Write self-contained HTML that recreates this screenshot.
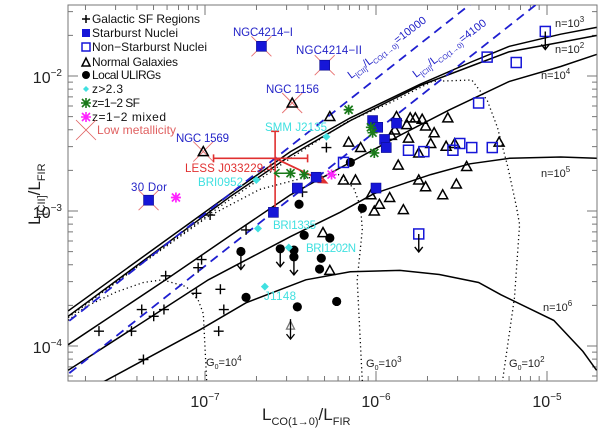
<!DOCTYPE html>
<html><head><meta charset="utf-8">
<style>
html,body{margin:0;padding:0;background:#fff;}
svg{display:block;font-family:"Liberation Sans",sans-serif;}
</style></head>
<body>
<svg id="chart" width="600" height="431" viewBox="0 0 600 431" xmlns="http://www.w3.org/2000/svg">
<defs><clipPath id="plotclip"><rect x="68" y="5" width="529" height="376"/></clipPath></defs>
<rect x="68" y="5" width="529" height="376" fill="none" stroke="#777" stroke-width="1"/>
<g id="ticks"></g>
<g id="curves" clip-path="url(#plotclip)"></g>
<g id="marks"></g>

<!-- tick labels -->
<g font-size="16" fill="#222" text-anchor="middle">
<text x="205" y="407">10<tspan dy="-7" font-size="10">−7</tspan></text>
<text x="376" y="407">10<tspan dy="-7" font-size="10">−6</tspan></text>
<text x="547" y="407">10<tspan dy="-7" font-size="10">−5</tspan></text>
</g>
<g font-size="16" fill="#222" text-anchor="end">
<text x="62" y="83">10<tspan dy="-7" font-size="10">−2</tspan></text>
<text x="62" y="218">10<tspan dy="-7" font-size="10">−3</tspan></text>
<text x="62" y="353">10<tspan dy="-7" font-size="10">−4</tspan></text>
</g>
<text x="262" y="420" font-size="17" fill="#222">L<tspan dy="5" font-size="11">CO(1→0)</tspan><tspan dy="-5">/L</tspan><tspan dy="5" font-size="11">FIR</tspan></text>
<text transform="translate(40,225) rotate(-90)" font-size="17" fill="#222">L<tspan dy="5" font-size="11">[CII]</tspan><tspan dy="-5">/L</tspan><tspan dy="5" font-size="11">FIR</tspan></text>

<!-- curve labels -->
<g font-size="11" fill="#222">
<text x="555" y="27">n=10<tspan dy="-5" font-size="8">3</tspan></text>
<text x="555" y="53">n=10<tspan dy="-5" font-size="8">2</tspan></text>
<text x="541" y="79">n=10<tspan dy="-5" font-size="8">4</tspan></text>
<text x="541" y="177">n=10<tspan dy="-5" font-size="8">5</tspan></text>
<text x="543" y="311">n=10<tspan dy="-5" font-size="8">6</tspan></text>
<text x="206" y="366">G<tspan dy="3" font-size="7">0</tspan><tspan dy="-3">=10</tspan><tspan dy="-5" font-size="8">4</tspan></text>
<text x="366" y="367">G<tspan dy="3" font-size="7">0</tspan><tspan dy="-3">=10</tspan><tspan dy="-5" font-size="8">3</tspan></text>
<text x="509" y="367">G<tspan dy="3" font-size="7">0</tspan><tspan dy="-3">=10</tspan><tspan dy="-5" font-size="8">2</tspan></text>
<text transform="translate(351,79) rotate(-37)" font-size="11" fill="#2020c8">L<tspan dy="3" font-size="7">[CII]</tspan><tspan dy="-3">/L</tspan><tspan dy="3" font-size="7">CO(1→0)</tspan><tspan dy="-3">=10000</tspan></text>
<text transform="translate(416,78) rotate(-37)" font-size="11" fill="#2020c8">L<tspan dy="3" font-size="7">[CII]</tspan><tspan dy="-3">/L</tspan><tspan dy="3" font-size="7">CO(1→0)</tspan><tspan dy="-3">=4100</tspan></text>
</g>

<!-- object labels -->
<g font-size="11.5">
<text x="233" y="36" fill="#2424c8" textLength="60">NGC4214−I</text>
<text x="296" y="54" fill="#2424c8" textLength="66">NGC4214−II</text>
<text x="266" y="93" fill="#2424c8" textLength="53">NGC 1156</text>
<text x="176" y="142" fill="#2424c8" textLength="53">NGC 1569</text>
<text x="131" y="191" fill="#2424c8" textLength="36">30 Dor</text>
<text x="265" y="131" fill="#40e0e0" textLength="62">SMM J2135</text>
<text x="198" y="186" fill="#40e0e0" textLength="45">BRI0952</text>
<text x="273" y="229" fill="#40e0e0" textLength="43">BRI1335</text>
<text x="306" y="252" fill="#40e0e0" textLength="50">BRI1202N</text>
<text x="264" y="300" fill="#40e0e0" textLength="32">J1148</text>
<text x="185" y="172" fill="#e03030" textLength="88">LESS J033229.4</text>
</g>

<!-- legend -->
<g font-size="12" fill="#111">
<g><path d="M82 19h8M86 15v8" stroke="#000" stroke-width="1.5"/><text x="92" y="23" textLength="108">Galactic SF Regions</text></g>
<g><rect x="82" y="29" width="8" height="8" fill="#1616d8"/><text x="92" y="37" textLength="86">Starburst Nuclei</text></g>
<g><rect x="82" y="43" width="8" height="8" fill="none" stroke="#1616d8" stroke-width="1.5"/><text x="92" y="51" textLength="115">Non−Starburst Nuclei</text></g>
<g><path d="M82 66L86 58L90 66Z" fill="none" stroke="#000" stroke-width="1.5"/><text x="92" y="66" textLength="86">Normal Galaxies</text></g>
<g><circle cx="86" cy="75" r="4" fill="#000"/><text x="92" y="79" textLength="69">Local ULIRGs</text></g>
<g><path d="M86 86l3 3l-3 3l-3-3z" fill="#40e0e0"/><text x="92" y="93" textLength="31">z&gt;2.3</text></g>
<g><path d="M82 99l8 8M90 99l-8 8M81 103h10M86 98v10" stroke="#1a7a1a" stroke-width="1.6"/><text x="92" y="107" textLength="48">z=1−2 SF</text></g>
<g><path d="M82 113l8 8M90 113l-8 8M81 117h10M86 112v10" stroke="#ff22ff" stroke-width="1.6"/><text x="92" y="121" textLength="74">z=1−2 mixed</text></g>
<g><path d="M76 120l20 20M96 120l-20 20" stroke="#e06060" stroke-width="0.8"/><text x="97" y="134" fill="#e06060" textLength="79">Low metallicity</text></g>
</g>

<script>
// ---- data (log10 values) ----
const galLogX = [-6.97,-6.76,-7.02,-7.04,-7.23,-6.91,-7.05,-7.37,-7.24,-7.30,-6.89,-7.62,-7.43,-6.92,-7.36,-6.43,-6.29];
const galLogY = [-3.03,-3.14,-3.36,-3.42,-3.48,-3.58,-3.61,-3.73,-3.73,-3.78,-3.73,-3.89,-3.89,-3.89,-4.10,-2.86,-2.53];
const ulLogX = [-6.45,-6.42,-6.27,-6.79,-6.56,-6.48,-6.48,-6.32,-6.33,-6.76,-6.46,-6.23,-6.15,-6.08];
const ulLogY = [-2.95,-3.18,-3.20,-3.30,-3.28,-3.29,-3.34,-3.35,-3.43,-3.64,-3.71,-3.67,-2.64,-2.98];
const ulUpper = [0,0,0,1,1,0,1,0,0,0,0,0,0,0];
const ngLogX = [-6.31,-6.27,-6.27,-6.16,-6.09,-5.88,-5.89,-5.91,-5.80,-5.77,-5.73,-5.82,-5.71,-5.66,-5.58,-5.81,-5.68,-5.75,-5.59,-5.54,-5.28,-5.87,-5.47,-5.75,-6.19,-6.12,-5.71,-5.53,-5.61,-5.92,-6.03,-5.98,-6.01,-5.84,-6.49,-7.01];
const ngLogY = [-3.16,-3.44,-2.30,-2.49,-2.53,-2.30,-2.40,-2.44,-2.31,-2.31,-2.32,-2.36,-2.37,-2.42,-2.31,-2.46,-2.50,-2.57,-2.52,-2.50,-2.49,-2.66,-2.67,-2.77,-2.77,-2.77,-2.82,-2.80,-2.88,-2.90,-2.88,-2.95,-3.00,-2.99,-2.20,-2.56];
const ngLimLogX = [-6.50];
const ngLimLogY = [-3.86];
const sbLogX = [-6.60,-6.46,-6.35,-6.02,-5.99,-5.88,-5.95,-5.94,-6.00,-6.67,-6.30,-7.33];
const sbLogY = [-3.01,-2.83,-2.75,-2.33,-2.38,-2.35,-2.47,-2.53,-2.83,-1.78,-1.92,-2.92];
const nsLogX = [-5.01,-5.35,-5.18,-5.40,-5.81,-5.72,-5.55,-5.51,-5.44,-5.32,-6.19,-5.75];
const nsLogY = [-1.67,-1.86,-1.90,-2.20,-2.55,-2.56,-2.55,-2.50,-2.53,-2.53,-2.64,-3.17];
const nsUpper = [1,0,0,0,0,0,0,0,0,0,0,1];
const hzLogX = [-6.29,-6.70,-6.69,-6.51,-6.65];
const hzLogY = [-2.45,-2.77,-3.13,-3.27,-3.56];
const sfLogX = [-6.16,-6.03,-6.02,-6.01,-6.42,-6.50];
const sfLogY = [-2.25,-2.38,-2.42,-2.57,-2.73,-2.72];
const sfLower = [0,0,0,0,0,1];
const mixLogX = [-6.26,-7.17];
const mixLogY = [-2.73,-2.90];
const lowMetLogX = [-6.67,-6.30,-7.33,-6.49,-7.01];
const lowMetLogY = [-1.78,-1.92,-2.92,-2.20,-2.56];
const lessLogX = [-6.59];
const lessLogY = [-2.61];
const lessXErr = [-6.95,-6.40];
const lessYErr = [-2.41,-3.01];
const lessArrowTo = [-6.29,-2.79];
const ratioValues = [10000,4100];
const ratioLogConv = -0.02;
// model curves
const nLabels = ['1e3','1e2','1e4','1e5','1e6'];
const n3LogX = [-7.80,-7.32,-6.85,-6.50,-6.15,-5.74,-5.45,-5.22,-4.92,-4.71];
const n3LogY = [-3.74,-3.30,-2.87,-2.56,-2.31,-2.06,-1.90,-1.78,-1.69,-1.64];
const n2LogX = [-7.80,-7.32,-6.85,-6.50,-6.15,-5.74,-5.45,-5.22,-4.92,-4.71];
const n2LogY = [-3.78,-3.33,-2.89,-2.59,-2.33,-2.07,-1.93,-1.82,-1.75,-1.70];
const n4LogX = [-7.80,-7.23,-6.85,-6.50,-6.15,-5.86,-5.57,-5.22,-4.92,-4.71];
const n4LogY = [-3.99,-3.51,-3.18,-2.88,-2.64,-2.44,-2.25,-2.04,-1.93,-1.84];
const n5LogX = [-7.80,-6.98,-6.50,-6.21,-6.01,-5.68,-5.45,-5.22,-4.92,-4.71];
const n5LogY = [-4.18,-3.51,-3.19,-3.01,-2.87,-2.73,-2.65,-2.61,-2.60,-2.61];
const n6LogX = [-7.60,-7.03,-6.76,-6.41,-6.15,-5.86,-5.63,-5.40,-5.27,-4.96,-4.79,-4.71];
const n6LogY = [-4.27,-3.88,-3.68,-3.51,-3.45,-3.44,-3.47,-3.53,-3.62,-3.81,-4.04,-4.18];
const g4LogX = [-7.80,-7.70,-7.52,-7.36,-7.25,-7.11,-7.04,-7.01,-6.99];
const g4LogY = [-3.81,-3.71,-3.60,-3.53,-3.51,-3.56,-3.66,-3.76,-4.26];
const g3LogX = [-7.80,-7.38,-6.98,-6.68,-6.44,-6.22,-6.13,-6.09,-6.08,-6.11,-6.08];
const g3LogY = [-3.79,-3.40,-3.04,-2.84,-2.76,-2.73,-2.83,-2.97,-3.14,-3.51,-4.26];
const g2LogX = [-7.80,-7.32,-6.85,-6.50,-6.17,-5.92,-5.67,-5.44,-5.35,-5.29,-5.23,-5.18,-5.16,-5.19,-5.26];
const g2LogY = [-3.78,-3.34,-2.91,-2.61,-2.34,-2.20,-2.04,-2.03,-2.18,-2.38,-2.67,-2.96,-3.10,-3.64,-4.26];
const xTickDecades = [-8,-7,-6,-5];
const yTickDecades = [-5,-4,-3,-2];

// ---- axes ----
const X = lx => 205 + (lx + 7) * 171;
const Y = ly => 211 - (ly + 3) * 135;
const NS = 'http://www.w3.org/2000/svg';
function mk(tag, parent) { const e = document.createElementNS(NS, tag); parent.appendChild(e); return e; }
const tickG = document.getElementById('ticks');
const curveG = document.getElementById('curves');
const markG = document.getElementById('marks');

// ticks
let td = '';
xTickDecades.forEach(d => {
  for (let k = 1; k <= 9; k++) {
    const px = X(d + Math.log10(k));
    if (px < 68.5 || px > 596.5) continue;
    const len = k === 1 ? 10 : 5;
    td += `M${px} 381v${-len}M${px} 5v${len}`;
  }
});
yTickDecades.forEach(d => {
  for (let k = 1; k <= 9; k++) {
    const py = Y(d + Math.log10(k));
    if (py < 5.5 || py > 380.5) continue;
    const len = k === 1 ? 10 : 5;
    td += `M68 ${py}h${len}M597 ${py}h${-len}`;
  }
});
const tp = mk('path', tickG);


tp.setAttribute('d', td);
tp.setAttribute('stroke', '#777');
tp.setAttribute('fill', 'none');

function poly(xs, ys, name, stroke, dash, w) {
  const p = mk('path', curveG);
  
  
  p.setAttribute('d', xs.map((v, i) => (i ? 'L' : 'M') + X(v).toFixed(1) + ' ' + Y(ys[i]).toFixed(1)).join(''));
  p.setAttribute('fill', 'none');
  p.setAttribute('stroke', stroke);
  p.setAttribute('stroke-width', w);
  if (dash) p.setAttribute('stroke-dasharray', dash);
  return p;
}
poly(g4LogX, g4LogY, 'g0-1e4-curve', '#000', '1.2 3', 1.3);
poly(g3LogX, g3LogY, 'g0-1e3-curve', '#000', '1.2 3', 1.3);
poly(g2LogX, g2LogY, 'g0-1e2-curve', '#000', '1.2 3', 1.3);
poly(n3LogX, n3LogY, 'n-' + nLabels[0] + '-curve', '#000', null, 1.5);
poly(n2LogX, n2LogY, 'n-' + nLabels[1] + '-curve', '#000', null, 1.5);
poly(n4LogX, n4LogY, 'n-' + nLabels[2] + '-curve', '#000', null, 1.5);
poly(n5LogX, n5LogY, 'n-' + nLabels[3] + '-curve', '#000', null, 1.5);
poly(n6LogX, n6LogY, 'n-' + nLabels[4] + '-curve', '#000', null, 1.5);
ratioValues.forEach(r => {
  const off = Math.log10(r) + ratioLogConv;
  const xs = [-8, -4.5];
  poly(xs, xs.map(v => v + off), 'ratio-line-' + r, '#1f1fd0', '9 6', 1.8);
});

// ---- markers ----
function grp(name) {
  const g = mk('g', markG);
  
  
  return g;
}
function path(g, d, stroke, fill, w) {
  const p = mk('path', g);
  p.setAttribute('d', d);
  p.setAttribute('stroke', stroke);
  p.setAttribute('fill', fill);
  p.setAttribute('stroke-width', w);
  return p;
}
function arrowDown(g, x, y, col) { path(g, `M${x} ${y}v18M${x - 4} ${y + 13}l4 5l4 -5`, col, 'none', 1.4); }

// low metallicity X (behind)
lowMetLogX.forEach((v, i) => {
  const g = grp('low-metallicity-x');
  const x = X(v), y = Y(lowMetLogY[i]);
  path(g, `M${x - 10} ${y - 10}l20 20M${x + 10} ${y - 10}l-20 20`, '#e87070', 'none', 0.9);
});

// LESS J033229.4 error bars and arrow
(function () {
  const g = grp('less-j033229-errorbars');
  const x = X(lessLogX[0]), y = Y(lessLogY[0]);
  const x1 = X(lessXErr[0]), x2 = X(lessXErr[1]);
  const y1 = Y(lessYErr[0]), y2 = Y(lessYErr[1]);
  path(g, `M${x1} ${y}H${x2}M${x1} ${y - 4}v8M${x2} ${y - 4}v8M${x} ${y1}V${y2}M${x - 4} ${y1}h8`, '#e03030', 'none', 1.6);
  const ax = X(lessArrowTo[0]), ay = Y(lessArrowTo[1]);
  const ang = Math.atan2(ay - y, ax - x);
  const h1 = [ax - 9 * Math.cos(ang - 0.4), ay - 9 * Math.sin(ang - 0.4)];
  const h2 = [ax - 9 * Math.cos(ang + 0.4), ay - 9 * Math.sin(ang + 0.4)];
  path(g, `M${x} ${y}L${ax} ${ay}M${h1[0]} ${h1[1]}L${ax} ${ay}L${h2[0]} ${h2[1]}`, '#e03030', 'none', 1.8);
})();

galLogX.forEach((v, i) => {
  const g = grp('galactic-sf-point');
  const x = X(v), y = Y(galLogY[i]);
  path(g, `M${x - 5} ${y}h10M${x} ${y - 5}v10`, '#000', 'none', 1.4);
});
ngLogX.forEach((v, i) => {
  const g = grp('normal-galaxy-point');
  const x = X(v), y = Y(ngLogY[i]);
  path(g, `M${x - 5} ${y + 4}L${x} ${y - 5}L${x + 5} ${y + 4}Z`, '#000', 'none', 1.5);
});
ngLimLogX.forEach((v, i) => {
  const g = grp('normal-galaxy-limit-point');
  const x = X(v), y = Y(ngLimLogY[i]);
  path(g, `M${x - 4} ${y + 2}L${x} ${y - 6}L${x + 4} ${y + 2}Z`, '#777', 'none', 1.3);
  path(g, `M${x} ${y - 8}v20M${x - 4} ${y + 7}l4 5l4 -5`, '#000', 'none', 1.3);
});
ulLogX.forEach((v, i) => {
  const g = grp('local-ulirg-point');
  const x = X(v), y = Y(ulLogY[i]);
  const c = mk('circle', g);
  c.setAttribute('cx', x); c.setAttribute('cy', y); c.setAttribute('r', 4.6); c.setAttribute('fill', '#000');
  if (ulUpper[i]) arrowDown(g, x, y, '#000');
});
sbLogX.forEach((v, i) => {
  const g = grp('starburst-nucleus-point');
  const x = X(v), y = Y(sbLogY[i]);
  const r = mk('rect', g);
  r.setAttribute('x', x - 5); r.setAttribute('y', y - 5); r.setAttribute('width', 10); r.setAttribute('height', 10);
  r.setAttribute('fill', '#1616d8'); r.setAttribute('stroke', '#0a0a90'); r.setAttribute('stroke-width', 0.6);
});
nsLogX.forEach((v, i) => {
  const g = grp('non-starburst-nucleus-point');
  const x = X(v), y = Y(nsLogY[i]);
  const r = mk('rect', g);
  r.setAttribute('x', x - 5); r.setAttribute('y', y - 5); r.setAttribute('width', 10); r.setAttribute('height', 10);
  r.setAttribute('fill', 'none'); r.setAttribute('stroke', '#1616d8'); r.setAttribute('stroke-width', 1.5);
  if (nsUpper[i]) arrowDown(g, x, y, '#000');
});
hzLogX.forEach((v, i) => {
  const g = grp('high-z-point');
  const x = X(v), y = Y(hzLogY[i]);
  path(g, `M${x} ${y - 4}l4 4l-4 4l-4 -4z`, 'none', '#40e0e0', 0);
});
function star(g, x, y, col) {
  path(g, `M${x - 4} ${y - 4}l8 8M${x + 4} ${y - 4}l-8 8M${x - 5} ${y}h10M${x} ${y - 5}v10`, col, 'none', 1.7);
}
sfLogX.forEach((v, i) => {
  const g = grp('z1-2-sf-point');
  const x = X(v), y = Y(sfLogY[i]);
  star(g, x, y, '#1a7a1a');
  if (sfLower[i]) path(g, `M${x} ${y}h-16M${x - 11} ${y - 4}l-5 4l5 4`, '#1a7a1a', 'none', 1.5);
});
mixLogX.forEach((v, i) => {
  const g = grp('z1-2-mixed-point');
  star(g, X(v), Y(mixLogY[i]), '#ff22ff');
});
</script>
</svg>
</body></html>
